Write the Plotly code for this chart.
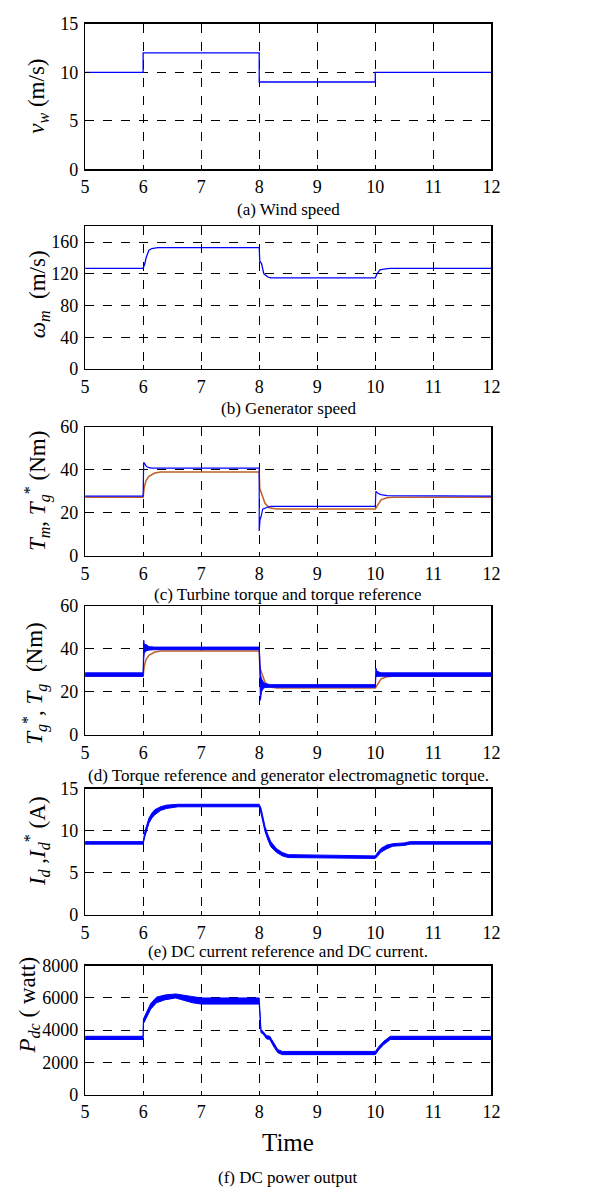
import plotly.graph_objects as go

# ---------------- data ----------------
time_ticks = [5, 6, 7, 8, 9, 10, 11, 12]

# (a) wind speed (step)
t_a = [5, 6, 8, 10, 12]
v_w = [10, 12, 9, 10, 10]

# (b) generator speed
t_b = [5, 6.0, 6.03, 6.05, 6.1, 6.15, 6.25, 8.0, 8.01, 8.04, 8.08, 8.15, 8.2, 10.0, 10.03, 10.08, 10.15, 10.25, 12]
w_m = [127, 127, 133, 140, 150, 152, 153, 153, 136, 133, 120, 116, 115, 115, 120, 125, 126, 127, 127]

# (c) turbine torque (blue) and torque reference (orange)
t_cm = [5, 6.0, 6.01, 6.03, 6.06, 6.1, 6.15, 8.0, 8.0, 8.015, 8.03, 8.06, 8.1, 8.15, 8.2, 10.0, 10.01, 10.05, 10.1, 10.2, 12]
T_m = [27.8, 27.8, 43.5, 42.5, 41.5, 41, 40.8, 40.8, 11.5, 17, 18, 21.7, 22.3, 22.7, 23, 23, 30, 29, 28.5, 28, 27.8]
t_ref = [5, 6.0, 6.02, 6.05, 6.1, 6.2, 6.3, 8.0, 8.01, 8.05, 8.1, 8.17, 8.3, 10.0, 10.05, 10.1, 10.2, 10.3, 12]
T_ref = [27.2, 27.2, 32, 35, 37, 38.5, 39, 39, 31.3, 28, 24.4, 22.3, 21.8, 21.8, 24, 26, 27, 27.2, 27.2]

# (d) generator electromagnetic torque ripple envelope (blue)
t_d = [5, 6.0, 6.01, 6.02, 6.05, 6.1, 6.2, 8.0, 8.01, 8.02, 8.04, 8.07, 8.1, 8.2, 10.0, 10.01, 10.03, 10.1, 12]
Tg_lo = [27.2, 27.2, 35, 38, 39, 39.4, 39.6, 39.6, 30, 16, 20, 21.5, 22, 22.1, 22.1, 27, 27.2, 27.2, 27.2]
Tg_hi = [28.8, 28.8, 44, 42, 42, 41, 40.8, 40.8, 36, 28, 26, 24.5, 23.8, 23.3, 23.3, 31, 29.5, 28.8, 28.8]

# (e) DC current ripple envelope
t_e = [5, 6.0, 6.03, 6.06, 6.1, 6.15, 6.2, 6.3, 6.4, 6.6, 8.0, 8.03, 8.06, 8.1, 8.15, 8.2, 8.3, 8.4, 8.5, 10.0, 10.05, 10.1, 10.2, 10.3, 10.5, 10.6, 12]
Id_lo = [8.4, 8.4, 9.3, 10.1, 10.9, 11.5, 11.9, 12.4, 12.65, 12.85, 12.85, 12.1, 11.0, 9.9, 8.9, 8.1, 7.4, 7.0, 6.8, 6.7, 7.05, 7.45, 7.85, 8.15, 8.25, 8.4, 8.4]
Id_hi = [8.7, 8.7, 9.9, 10.7, 11.5, 12.1, 12.5, 12.85, 13.05, 13.15, 13.15, 12.7, 11.6, 10.5, 9.5, 8.7, 7.85, 7.4, 7.15, 7.0, 7.5, 7.9, 8.3, 8.45, 8.55, 8.7, 8.7]

# (f) DC power ripple envelope
t_f = [5, 6.0, 6.005, 6.06, 6.13, 6.23, 6.37, 6.56, 6.85, 7.0, 8.0, 8.03, 8.07, 8.13, 8.18, 8.26, 8.32, 8.4, 10.0, 10.07, 10.15, 10.26, 12]
P_lo = [3420, 3420, 4400, 4800, 5300, 5700, 5880, 6000, 5700, 5620, 5620, 3850, 3750, 3450, 3430, 2920, 2600, 2480, 2480, 2820, 3120, 3420, 3420]
P_hi = [3620, 3620, 4700, 5150, 5650, 6050, 6180, 6250, 6060, 6000, 6000, 4050, 3900, 3650, 3630, 3120, 2800, 2680, 2680, 3020, 3320, 3620, 3620]

y_ranges = [(0, 15), (0, 180), (0, 60), (0, 60), (0, 15), (0, 8000)]
y_ticks = [[0, 5, 10, 15], [0, 40, 80, 120, 160], [0, 20, 40, 60], [0, 20, 40, 60], [0, 5, 10, 15], [0, 2000, 4000, 6000, 8000]]
y_titles = [
    "<i>v<sub>w</sub></i> (m/s)",
    "<i>ω<sub>m</sub></i>  (m/s)",
    "<i>T<sub>m</sub></i>, <i>T<sub>g</sub></i><sup>*</sup> (Nm)",
    "<i>T<sub>g</sub></i><sup>*</sup>, <i>T<sub>g</sub></i>  (Nm)",
    "<i>I<sub>d</sub></i> ,<i>I<sub>d</sub></i><sup>*</sup> (A)",
    "<i>P<sub>dc</sub></i> ( watt)",
]
captions = [
    "(a) Wind speed",
    "(b) Generator speed",
    "(c) Turbine torque and torque reference",
    "(d) Torque reference and generator electromagnetic torque.",
    "(e) DC current reference and DC current.",
    "(f) DC power output",
]

# ---------------- layout geometry (pixels) ----------------
W, H = 600, 1197
X0, X1 = 82, 498
panels_px = [(14, 162), (220, 365), (424, 555), (606, 737), (792, 920), (972, 1103)]
title_pos = [(33, 88), (35, 289), (33, 489), (30, 685), (33, 845), (25, 1012)]
caption_y = [203, 405, 594, 779, 958, 1187]

BLUE = "#0000ff"
ORANGE = "#c0602a"
FONT = "Liberation Serif, Times New Roman, DejaVu Serif, serif"

fig = go.Figure()

def ax(i):
    return ("x" if i == 0 else f"x{i+1}", "y" if i == 0 else f"y{i+1}")

def band(i, t, lo, hi):
    xa, ya = ax(i)
    fig.add_trace(go.Scatter(x=t, y=lo, mode="lines", line=dict(color=BLUE, width=1),
                             xaxis=xa, yaxis=ya, showlegend=False, hoverinfo="skip"))
    fig.add_trace(go.Scatter(x=t, y=hi, mode="lines", line=dict(color=BLUE, width=1),
                             fill="tonexty", fillcolor=BLUE,
                             xaxis=xa, yaxis=ya, showlegend=False, hoverinfo="skip"))

# (a)
xa, ya = ax(0)
fig.add_trace(go.Scatter(x=t_a, y=v_w, mode="lines", line=dict(color=BLUE, width=1.3, shape="hv"),
                         xaxis=xa, yaxis=ya, showlegend=False))
# (b)
xa, ya = ax(1)
fig.add_trace(go.Scatter(x=t_b, y=w_m, mode="lines", line=dict(color=BLUE, width=1.3),
                         xaxis=xa, yaxis=ya, showlegend=False))
# (c)
xa, ya = ax(2)
fig.add_trace(go.Scatter(x=t_ref, y=T_ref, mode="lines", line=dict(color=ORANGE, width=1.5),
                         xaxis=xa, yaxis=ya, showlegend=False))
fig.add_trace(go.Scatter(x=t_cm, y=T_m, mode="lines", line=dict(color=BLUE, width=1.2),
                         xaxis=xa, yaxis=ya, showlegend=False))
# (d)
xa, ya = ax(3)
fig.add_trace(go.Scatter(x=t_ref, y=T_ref, mode="lines", line=dict(color=ORANGE, width=1.5),
                         xaxis=xa, yaxis=ya, showlegend=False))
band(3, t_d, Tg_lo, Tg_hi)
# (e)
band(4, t_e, Id_lo, Id_hi)
# (f)
band(5, t_f, P_lo, P_hi)

layout = dict(width=W, height=H, margin=dict(l=0, r=0, t=0, b=0),
              paper_bgcolor="white", plot_bgcolor="white",
              font=dict(family=FONT, color="black", size=17))

annotations = []
for i, (top, bot) in enumerate(panels_px):
    xname = "xaxis" if i == 0 else f"xaxis{i+1}"
    yname = "yaxis" if i == 0 else f"yaxis{i+1}"
    anchor_x = "x" if i == 0 else f"x{i+1}"
    anchor_y = "y" if i == 0 else f"y{i+1}"
    layout[xname] = dict(domain=[X0 / W, X1 / W], anchor=anchor_y, range=[5, 12],
                         tickvals=time_ticks, showgrid=True, gridcolor="black",
                         griddash="dash", gridwidth=1, zeroline=False,
                         showline=True, linecolor="black", linewidth=1.3, mirror=True,
                         ticks="inside", ticklen=4, tickcolor="black",
                         tickfont=dict(family=FONT, size=18, color="black"), ticklabelstandoff=1)
    layout[yname] = dict(domain=[1 - bot / H, 1 - top / H], anchor=anchor_x,
                         range=list(y_ranges[i]), tickvals=y_ticks[i],
                         showgrid=True, gridcolor="black", griddash="dash", gridwidth=1,
                         zeroline=False, showline=True, linecolor="black", linewidth=1.3,
                         mirror=True, ticks="inside", ticklen=4, tickcolor="black",
                         tickfont=dict(family=FONT, size=18, color="black"), ticklabelstandoff=2)
    tx, ty = title_pos[i]
    annotations.append(dict(text=y_titles[i], xref="paper", yref="paper", x=tx / W, y=1 - ty / H,
                            xanchor="center", yanchor="middle", textangle=-90, showarrow=False,
                            font=dict(family=FONT, size=23, color="black")))
    annotations.append(dict(text=captions[i], xref="paper", yref="paper", x=290 / W,
                            y=1 - caption_y[i] / H, xanchor="center", yanchor="middle",
                            showarrow=False, font=dict(family=FONT, size=17, color="black")))

annotations.append(dict(text="Time", xref="paper", yref="paper", x=290 / W, y=1 - 1152 / H,
                        xanchor="center", yanchor="middle", showarrow=False,
                        font=dict(family=FONT, size=25, color="black")))
layout["annotations"] = annotations
fig.update_layout(**layout)
fig.write_html("out.html", config={"displayModeBar": False, "staticPlot": True},
               post_script="document.body.style.margin='0';document.body.style.padding='0';"
                           "document.documentElement.style.overflow='hidden';"
                           "document.body.style.overflow='hidden';")
